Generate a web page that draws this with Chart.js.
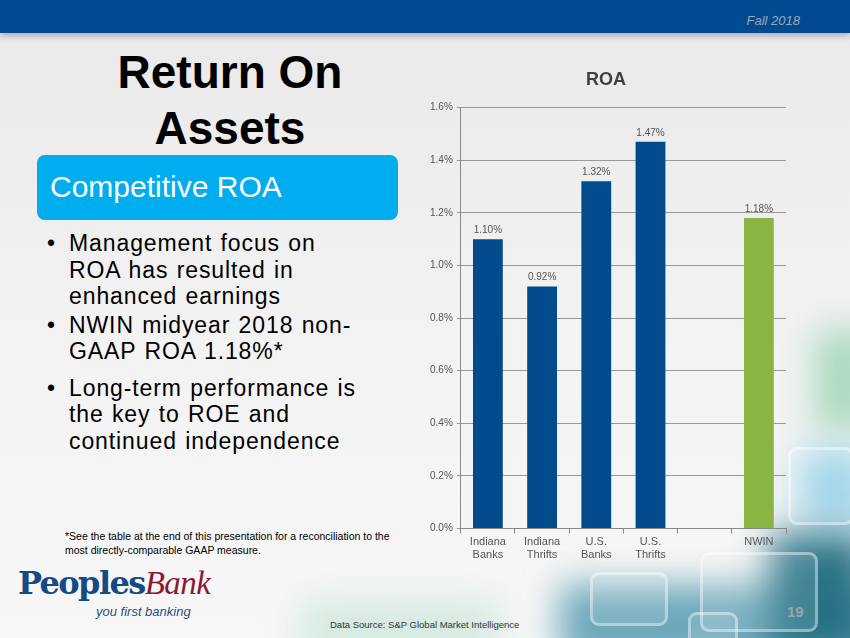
<!DOCTYPE html>
<html lang="en">
<head>
<meta charset="UTF-8">
<title>Return On Assets</title>
<script src="https://cdn.jsdelivr.net/npm/chart.js@4.4.0/dist/chart.umd.min.js"></script>
<style>
    html, body { margin: 0; padding: 0; }
    body { width: 850px; height: 638px; overflow: hidden; position: relative;
           background: linear-gradient(#e9e9e9, #f3f3f3 55%, #f7f7f7);
           font-family: "Liberation Sans", Arial, sans-serif; }
    .mancha { position: absolute; filter: blur(18px); }
    .band { position: absolute; left: 0; top: 0; width: 850px; height: 33px; background: #014a8f;
            box-shadow: 0 3px 6px rgba(0,0,0,0.25); }
    .season { position: absolute; right: 50px; top: 13px; font-size: 13px; font-style: italic; color: #9aa8bb; }
    .box { position: absolute; border: 3px solid rgba(255,255,255,0.4); background: rgba(255,255,255,0.12); border-radius: 9px; }
    h1 { position: absolute; left: 60px; top: 44px; width: 340px; margin: 0; text-align: center;
         font-size: 46px; line-height: 56px; font-weight: bold; color: #000; }
    .tag { position: absolute; left: 37px; top: 155px; width: 361px; height: 65px; background: #00adef;
           border-radius: 8px; color: #fff; font-size: 30px; line-height: 63px; box-sizing: border-box; padding-left: 13px; }
    ul { position: absolute; left: 45px; top: 230px; width: 327px; margin: 0; padding: 0; list-style: none;
         font-size: 23px; line-height: 26.5px; color: #000; letter-spacing: 0.9px; word-spacing: 1px; }
    li { position: relative; padding-left: 24px; }
    li:before { content: "\2022"; position: absolute; left: 2px; }
    .note { position: absolute; left: 65px; top: 529px; font-size: 10.5px; line-height: 14px; color: #000; }
    .logo { position: absolute; left: 18px; top: 564px; white-space: nowrap; }
    .logo .p { font-family: "DejaVu Serif", serif; font-weight: bold; font-size: 32px; color: #164a86; letter-spacing: -1.6px; }
    .logo .b { font-family: "Liberation Serif", serif; font-style: italic; font-size: 33px; color: #8b1a33; letter-spacing: -0.5px; }
    .logo .s { position: absolute; left: 78px; top: 40px; font-style: italic; font-size: 13px; color: #2a4f7e; }
    .src { position: absolute; left: 330px; top: 619px; font-size: 9.5px; color: #333; }
    .page { position: absolute; left: 787px; top: 603px; font-size: 15px; font-weight: bold; color: #9aa6ae; }
    .chartbox { position: absolute; left: 426px; top: 65px; width: 374px; height: 499px; }
</style>
</head>
<body>
    <!-- manchas do fundo (canto inferior direito) -->
    <div class="mancha" style="left:815px;top:330px;width:60px;height:100px;background:rgba(150,210,175,0.8);"></div>
    <div class="mancha" style="left:800px;top:450px;width:70px;height:80px;background:rgba(140,205,230,0.9);"></div>
    <div class="mancha" style="left:560px;top:585px;width:320px;height:80px;background:rgba(60,140,165,0.75);"></div>
    <div class="mancha" style="left:770px;top:535px;width:100px;height:120px;background:rgba(35,110,130,0.95);"></div>
    <div class="mancha" style="left:300px;top:600px;width:200px;height:60px;background:rgba(170,220,200,0.45);"></div>
    <div class="box" style="left:788px;top:447px;width:60px;height:72px;"></div>
    <div class="box" style="left:590px;top:572px;width:72px;height:48px;"></div>
    <div class="box" style="left:700px;top:552px;width:112px;height:74px;"></div>
    <div class="box" style="left:688px;top:612px;width:44px;height:40px;"></div>
    <div class="band"></div>
    <div class="season">Fall 2018</div>

    <h1>Return On Assets</h1>
    <div class="tag">Competitive ROA</div>
    <ul>
        <li style="margin-bottom:2px;">Management focus on ROA has resulted in enhanced earnings</li>
        <li style="margin-bottom:10px;">NWIN midyear 2018 non-GAAP ROA 1.18%*</li>
        <li>Long-term performance is the key to ROE and continued independence</li>
    </ul>
    <div class="note">*See the table at the end of this presentation for a reconciliation to the<br>most directly-comparable GAAP measure.</div>

    <div class="logo">
        <span class="p">Peoples</span><span class="b">Bank</span>
        <div class="s">you first banking</div>
    </div>
    <div class="src">Data Source: S&amp;P Global Market Intelligence</div>
    <div class="page">19</div>

    <div class="chartbox"><canvas id="roaChart"></canvas></div>

<script>
    const categorias = [['Indiana', 'Banks'], ['Indiana', 'Thrifts'], ['U.S.', 'Banks'], ['U.S.', 'Thrifts'], '', 'NWIN'];
    const valoresROA = [1.10, 0.92, 1.32, 1.47, null, 1.18];
    const coresBarras = ['#004b8d', '#004b8d', '#004b8d', '#004b8d', '#004b8d', '#8ab545'];
    const ticksY = [0, 0.2, 0.4, 0.6, 0.8, 1.0, 1.2, 1.4, 1.6];

    // rótulos de valor em cima das barras
    const rotulosValor = {
        id: 'rotulosValor',
        afterDatasetsDraw(chart) {
            const ctx = chart.ctx;
            const meta = chart.getDatasetMeta(0);
            ctx.save();
            ctx.font = '10px "Liberation Sans", Arial, sans-serif';
            ctx.fillStyle = '#555';
            ctx.textAlign = 'center';
            ctx.textBaseline = 'bottom';
            meta.data.forEach((bar, i) => {
                const v = valoresROA[i];
                if (v === null) return;
                ctx.fillText(v.toFixed(2) + '%', bar.x, bar.y - 4);
            });
            ctx.restore();
        }
    };

    new Chart(document.getElementById('roaChart'), {
        type: 'bar',
        data: {
            labels: categorias,
            datasets: [{
                data: valoresROA,
                backgroundColor: coresBarras,
                barPercentage: 0.55,
                categoryPercentage: 1.0
            }]
        },
        options: {
            responsive: true,
            maintainAspectRatio: false,
            animation: false,
            layout: { padding: { top: 0, right: 14, bottom: 0, left: 0 } },
            plugins: {
                legend: { display: false },
                tooltip: { enabled: false },
                title: {
                    display: true,
                    text: 'ROA',
                    color: '#404040',
                    font: { size: 18, weight: 'bold', family: '"Liberation Sans", Arial, sans-serif' },
                    padding: { top: 4, bottom: 17 }
                }
            },
            scales: {
                x: {
                    grid: { offset: true, drawOnChartArea: false, tickLength: 5, color: '#888' },
                    border: { color: '#888' },
                    ticks: {
                        color: '#555',
                        padding: 2,
                        font: { size: 11, family: '"Liberation Sans", Arial, sans-serif' },
                        maxRotation: 0
                    }
                },
                y: {
                    min: 0,
                    max: 1.6,
                    afterBuildTicks(axis) { axis.ticks = ticksY.map(v => ({ value: v })); },
                    grid: { color: '#999', tickLength: 4 },
                    border: { color: '#888' },
                    ticks: {
                        color: '#555',
                        padding: 4,
                        font: { size: 10, family: '"Liberation Sans", Arial, sans-serif' },
                        callback: v => v.toFixed(1) + '%'
                    }
                }
            }
        },
        plugins: [rotulosValor]
    });
</script>
</body>
</html>
